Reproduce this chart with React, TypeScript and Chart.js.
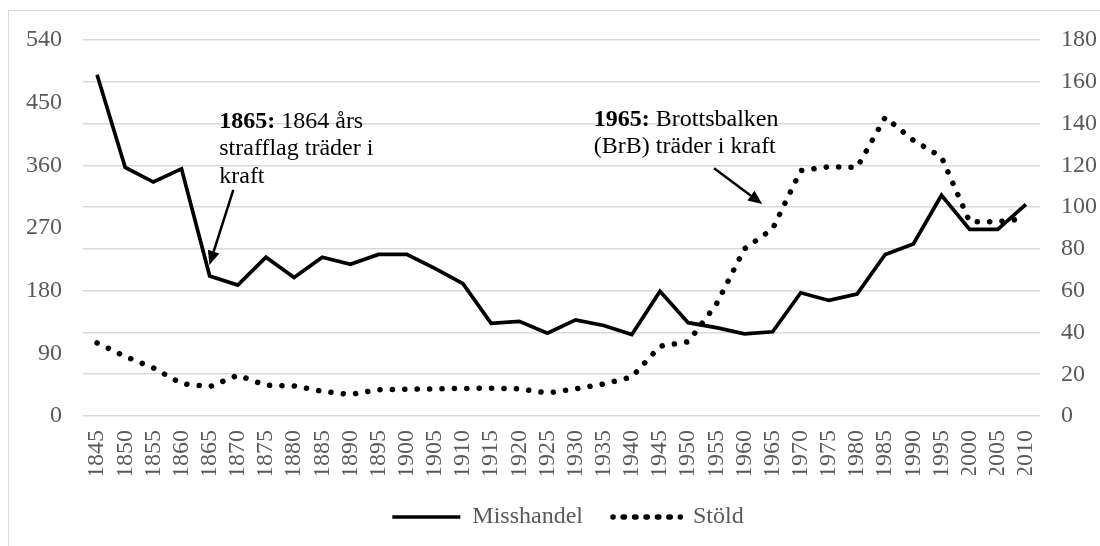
import React, { useEffect, useRef } from 'react';
import { Chart, registerables } from 'chart.js';

Chart.register(...registerables);

const FONT = "'Liberation Serif', 'Times New Roman', serif";
const FS = 24;

const years = [
  '1845', '1850', '1855', '1860', '1865', '1870', '1875', '1880', '1885', '1890',
  '1895', '1900', '1905', '1910', '1915', '1920', '1925', '1930', '1935', '1940',
  '1945', '1950', '1955', '1960', '1965', '1970', '1975', '1980', '1985', '1990',
  '1995', '2000', '2005', '2010',
];

// Misshandel (left axis)
const misshandel = [
  490, 357, 336, 355, 201, 188, 228, 199, 228, 218,
  232, 232, 212, 190, 133, 136, 119, 138, 130, 117,
  179, 134, 127, 118, 121, 177, 166, 175, 232, 247,
  317, 268, 268, 304,
];

// Stöld (right axis)
const stold = [
  35, 28.5, 23, 15.5, 14, 19.5, 14.7, 14.4, 11.8, 10.3,
  12.6, 12.8, 13, 13.2, 13.3, 13, 11, 13, 15.3, 18.7,
  33.4, 35.5, 53.5, 80, 89.6, 117.5, 119.3, 119, 143, 132,
  124, 93, 93, 94.5,
];

const seriesNames = ['Misshandel', 'Stöld'];

// Annotation texts, anchored in axis units (x: category index, y: left-axis value)
const annotations = [
  {
    bold: '1865:',
    lines: [' 1864 års', 'strafflag träder i', 'kraft'],
    at: [4.34, 422.7],
    from: [4.84, 324.6],
    to: [3.99, 216.9],
  },
  {
    bold: '1965:',
    lines: [' Brottsbalken', '(BrB) träder i kraft'],
    at: [17.65, 426.1],
    from: [21.92, 355.7],
    to: [23.63, 304.5],
  },
];

const annotationPlugin = {
  id: 'textArrows',
  afterLayout(chart: any) {
    // centre the legend a little to the right, as in the reference
    if (chart.legend) chart.legend.left += 36;
  },
  afterDatasetsDraw(chart: any) {
    const { ctx } = chart;
    const xs = chart.scales.x;
    const ys = chart.scales.y;
    ctx.save();
    ctx.fillStyle = '#000';
    ctx.strokeStyle = '#000';
    ctx.textBaseline = 'middle';
    ctx.textAlign = 'left';
    for (const a of annotations) {
      const x = xs.getPixelForValue(a.at[0]);
      const y = ys.getPixelForValue(a.at[1]);
      ctx.font = `bold ${FS}px ${FONT}`;
      ctx.fillText(a.bold, x, y);
      const bw = ctx.measureText(a.bold).width;
      ctx.font = `${FS}px ${FONT}`;
      ctx.fillText(a.lines[0], x + bw, y);
      for (let i = 1; i < a.lines.length; i++) {
        ctx.fillText(a.lines[i], x, y + i * 27.5);
      }
      const x1 = xs.getPixelForValue(a.from[0]);
      const y1 = ys.getPixelForValue(a.from[1]);
      const x2 = xs.getPixelForValue(a.to[0]);
      const y2 = ys.getPixelForValue(a.to[1]);
      const ang = Math.atan2(y2 - y1, x2 - x1);
      const L = 14;
      const W = 6;
      const bx = x2 - L * Math.cos(ang);
      const by = y2 - L * Math.sin(ang);
      ctx.lineWidth = 2.5;
      ctx.beginPath();
      ctx.moveTo(x1, y1);
      ctx.lineTo(bx, by);
      ctx.stroke();
      ctx.beginPath();
      ctx.moveTo(x2, y2);
      ctx.lineTo(bx + W * Math.sin(ang), by - W * Math.cos(ang));
      ctx.lineTo(bx - W * Math.sin(ang), by + W * Math.cos(ang));
      ctx.closePath();
      ctx.fill();
    }
    ctx.restore();
  },
};

export default function App() {
  const canvasRef = useRef<HTMLCanvasElement | null>(null);

  useEffect(() => {
    if (!canvasRef.current) return;
    const chart = new Chart(canvasRef.current, {
      type: 'line',
      data: {
        labels: years,
        datasets: [
          {
            label: seriesNames[0],
            data: misshandel,
            yAxisID: 'y',
            borderColor: '#000',
            backgroundColor: '#000',
            borderWidth: 3.7,
            borderJoinStyle: 'miter',
            borderCapStyle: 'butt',
            pointRadius: 0,
            tension: 0,
          },
          {
            label: seriesNames[1],
            data: stold,
            yAxisID: 'y1',
            borderColor: '#000',
            backgroundColor: '#000',
            borderWidth: 5.5,
            borderDash: [0.1, 12.3],
            borderCapStyle: 'round',
            pointRadius: 0,
            tension: 0,
          },
        ],
      },
      options: {
        responsive: false,
        animation: false,
        layout: { padding: { top: 40, left: 0, right: 0, bottom: 7 } },
        plugins: {
          tooltip: { enabled: false },
          legend: {
            position: 'bottom',
            labels: {
              boxWidth: 68,
              boxHeight: 0,
              padding: 30,
              color: '#595959',
              font: { family: FONT, size: FS },
              generateLabels(c: any) {
                const items = (Chart.defaults as any).plugins.legend.labels.generateLabels(c);
                if (items[1]) items[1].lineDash = [0.1, 11.333];
                return items;
              },
            },
          },
        },
        scales: {
          x: {
            type: 'category',
            offset: true,
            grid: { display: false, drawTicks: false, tickLength: 0 },
            border: { display: false },
            ticks: {
              autoSkip: false,
              minRotation: 90,
              maxRotation: 90,
              padding: 14,
              color: '#595959',
              font: { family: FONT, size: FS },
            },
            afterFit(s: any) {
              s.height = 59;
            },
          },
          y: {
            position: 'left',
            min: 0,
            max: 540,
            grid: { display: false, drawTicks: false, tickLength: 0 },
            border: { display: false },
            ticks: {
              stepSize: 90,
              padding: 21,
              color: '#595959',
              font: { family: FONT, size: FS },
            },
            afterFit(s: any) {
              s.width = 83;
            },
          },
          y1: {
            position: 'right',
            min: 0,
            max: 180,
            grid: { color: '#d9d9d9', lineWidth: 1.5, drawTicks: false, tickLength: 0 },
            border: { display: false },
            ticks: {
              stepSize: 20,
              padding: 21,
              color: '#595959',
              font: { family: FONT, size: FS },
            },
            afterFit(s: any) {
              s.width = 60;
            },
          },
        },
      },
      plugins: [annotationPlugin],
    } as any);
    return () => chart.destroy();
  }, []);

  return (
    <div style={{ position: 'fixed', left: 0, top: 0, width: 1100, height: 546, background: '#fff' }}>
      <div
        style={{
          position: 'absolute',
          left: 8,
          top: 10,
          width: 1200,
          height: 600,
          borderLeft: '1px solid #d9d9d9',
          borderTop: '1px solid #d9d9d9',
        }}
      />
      <canvas ref={canvasRef} width={1100} height={546} style={{ position: 'absolute', left: 0, top: 0 }} />
    </div>
  );
}
